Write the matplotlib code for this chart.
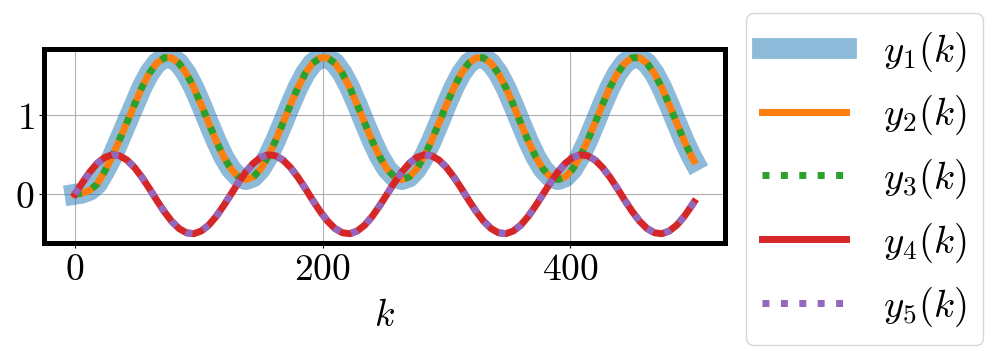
import matplotlib
matplotlib.use("Agg")
import matplotlib.pyplot as plt
from matplotlib.ticker import FuncFormatter

plt.rcParams['mathtext.fontset'] = 'cm'
plt.rcParams['font.family'] = ['DejaVu Serif']

# sample index k
k = list(range(0, 499, 6)) + [500]

y1 = [0.00, 0.015, 0.05, 0.13, 0.29, 0.47, 0.69, 0.91, 1.13, 1.35, 1.53,
      1.658, 1.726, 1.726, 1.658, 1.528, 1.348, 1.132, 0.902, 0.677, 0.477,
      0.320, 0.219, 0.185, 0.219, 0.320, 0.477, 0.677, 0.902, 1.132, 1.348,
      1.528, 1.658, 1.726, 1.726, 1.658, 1.528, 1.348, 1.132, 0.902, 0.677, 0.477,
      0.320, 0.219, 0.185, 0.219, 0.320, 0.477, 0.677, 0.902, 1.132, 1.348,
      1.528, 1.658, 1.726, 1.726, 1.658, 1.528, 1.348, 1.132, 0.902, 0.677, 0.477,
      0.320, 0.219, 0.185, 0.219, 0.320, 0.477, 0.677, 0.902, 1.132, 1.348,
      1.528, 1.658, 1.726, 1.726, 1.658, 1.528, 1.348, 1.132, 0.902, 0.677, 0.477,
      0.42]
y2 = list(y1)
y3 = list(y1)

y4 = [0.0, 0.147, 0.282, 0.391, 0.465, 0.499, 0.487, 0.433, 0.340, 0.217, 0.075,
      -0.075, -0.217, -0.340, -0.433, -0.487, -0.499, -0.465, -0.391, -0.282, -0.147,
      0.0, 0.147, 0.282, 0.391, 0.465, 0.499, 0.487, 0.433, 0.340, 0.217, 0.075,
      -0.075, -0.217, -0.340, -0.433, -0.487, -0.499, -0.465, -0.391, -0.282, -0.147,
      0.0, 0.147, 0.282, 0.391, 0.465, 0.499, 0.487, 0.433, 0.340, 0.217, 0.075,
      -0.075, -0.217, -0.340, -0.433, -0.487, -0.499, -0.465, -0.391, -0.282, -0.147,
      0.0, 0.147, 0.282, 0.391, 0.465, 0.499, 0.487, 0.433, 0.340, 0.217, 0.075,
      -0.075, -0.217, -0.340, -0.433, -0.487, -0.499, -0.465, -0.391, -0.282, -0.147,
      -0.099]
y5 = list(y4)

labels = [r'$y_1(k)$', r'$y_2(k)$', r'$y_3(k)$', r'$y_4(k)$', r'$y_5(k)$']
xticks = [0, 200, 400]
yticks = [0, 1]

FS = 27

fig = plt.figure(figsize=(9.97, 3.51), dpi=100)
ax = fig.add_axes([44/997, 1 - 242.5/351, (725 - 44)/997, (242.5 - 49)/351])

ax.plot(k, y1, color='C0', lw=15, alpha=0.5, label=labels[0])
ax.plot(k, y2, color='C1', lw=5, label=labels[1])
ax.plot(k, y3, color='C2', lw=5, ls=':', label=labels[2])
ax.plot(k, y4, color='C3', lw=5, label=labels[3])
ax.plot(k, y5, color='C4', lw=5, ls=':', label=labels[4])

ax.set_xticks(xticks)
ax.set_yticks(yticks)
fmt = FuncFormatter(lambda v, p: r'$%g$' % v)
ax.xaxis.set_major_formatter(fmt)
ax.yaxis.set_major_formatter(fmt)
ax.tick_params(labelsize=FS)
ax.set_xlabel(r'$k$', fontsize=FS, labelpad=7)
ax.grid(True)
for s in ax.spines.values():
    s.set_linewidth(3.6)

ax.legend(loc='upper left', bbox_to_anchor=(746/997, 1 - 13/351),
          bbox_transform=fig.transFigure, borderaxespad=0, fontsize=28,
          handlelength=2.15, handletextpad=0.95, borderpad=0.42)

fig.savefig('out.png', dpi=100)
